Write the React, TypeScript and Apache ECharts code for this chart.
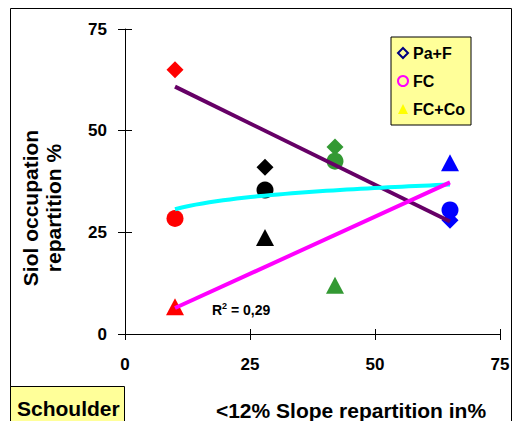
import React, { useEffect, useRef } from "react";
import * as echarts from "echarts";

// ---- data ----
const slopeX = [10, 28, 42, 65];
const paF = [65, 41, 46, 28];
const fc = [28.4, 35.4, 42.5, 30.5];
const fcCo = [6.7, 23.7, 12, 42.1];
const pointColors = ["#ff0000", "#000000", "#339933", "#0000ff"];
const seriesNames = ["Pa+F", "FC", "FC+Co"];
const axisMin = 0;
const axisMax = 75;
const axisStep = 25;
const r2Text = "0,29";
const yTitle = "Siol occupation\nrepartition %";
const xTitle = "<12% Slope repartition in%";
const boxLabel = "Schoulder";

const FONT = "Arial, 'Liberation Sans', Helvetica, sans-serif";

function linFit(xs: number[], ys: number[]) {
  const n = xs.length;
  const mx = xs.reduce((a, b) => a + b, 0) / n;
  const my = ys.reduce((a, b) => a + b, 0) / n;
  let sxx = 0;
  let sxy = 0;
  for (let i = 0; i < n; i++) {
    sxx += (xs[i] - mx) * (xs[i] - mx);
    sxy += (xs[i] - mx) * (ys[i] - my);
  }
  const b = sxy / sxx;
  return { a: my - b * mx, b };
}

function App() {
  const ref = useRef<HTMLDivElement>(null);

  useEffect(() => {
    if (!ref.current) return;
    const chart = echarts.init(ref.current, undefined, { renderer: "svg" });

    const xMin = Math.min(...slopeX);
    const xMax = Math.max(...slopeX);

    // linear trend of Pa+F
    const l1 = linFit(slopeX, paF);
    const trendPaF = [
      [xMin, l1.a + l1.b * xMin],
      [xMax, l1.a + l1.b * xMax],
    ];
    // linear trend of FC+Co
    const l3 = linFit(slopeX, fcCo);
    const trendFcCo = [
      [xMin, l3.a + l3.b * xMin],
      [xMax, l3.a + l3.b * xMax],
    ];
    // logarithmic trend of FC
    const lg = linFit(slopeX.map((v) => Math.log(v)), fc);
    const trendFc: number[][] = [];
    const steps = 40;
    for (let i = 0; i <= steps; i++) {
      const x = xMin + ((xMax - xMin) * i) / steps;
      trendFc.push([x, lg.a + lg.b * Math.log(x)]);
    }

    const mkPoints = (ys: number[]) =>
      ys.map((y, i) => ({ value: [slopeX[i], y], itemStyle: { color: pointColors[i], opacity: 1 } }));

    const axisCommon = {
      type: "value" as const,
      min: axisMin,
      max: axisMax,
      interval: axisStep,
      splitLine: { show: false },
    };

    const labelStyle = {
      color: "#000",
      fontSize: 17,
      fontWeight: "bolder",
      fontFamily: FONT,
    };

    const option: any = {
      animation: false,
      backgroundColor: "#ffffff",
      textStyle: { fontFamily: FONT, fontWeight: "bold", color: "#000" },
      grid: { left: 125, right: 14, top: 29, bottom: 87, containLabel: false },
      xAxis: [
        {
          ...axisCommon,
          position: "bottom",
          axisLine: { show: true, onZero: false, lineStyle: { color: "#000", width: 1 } },
          axisTick: { show: true, inside: false, length: 6, lineStyle: { color: "#000", width: 1 } },
          axisLabel: { ...labelStyle, margin: 22 },
        },
        {
          ...axisCommon,
          position: "bottom",
          axisLine: { show: false, onZero: false },
          axisTick: { show: true, inside: true, length: 5, lineStyle: { color: "#000", width: 1 } },
          axisLabel: { show: false },
        },
      ],
      yAxis: [
        {
          ...axisCommon,
          position: "left",
          axisLine: { show: true, onZero: false, lineStyle: { color: "#000", width: 1 } },
          axisTick: { show: true, inside: false, length: 7, lineStyle: { color: "#000", width: 1 } },
          axisLabel: { ...labelStyle, margin: 18 },
        },
        {
          ...axisCommon,
          position: "left",
          axisLine: { show: false, onZero: false },
          axisTick: { show: true, inside: true, length: 7, lineStyle: { color: "#000", width: 1 } },
          axisLabel: { show: false },
        },
      ],
      legend: {
        orient: "vertical",
        left: 391,
        top: 37,
        selectedMode: false,
        backgroundColor: "#ffff99",
        borderColor: "#000",
        borderWidth: 1,
        borderRadius: 0,
        padding: [8, 6, 8, 6],
        itemGap: 12,
        itemWidth: 10,
        itemHeight: 10,
        textStyle: { fontSize: 16, fontWeight: "bold", color: "#000", fontFamily: FONT, lineHeight: 16 },
        data: [
          {
            name: seriesNames[0],
            icon: "diamond",
            itemStyle: { color: "rgba(0,0,0,0)", borderColor: "#000080", borderWidth: 2, opacity: 1 },
          },
          {
            name: seriesNames[1],
            icon: "circle",
            itemStyle: { color: "rgba(0,0,0,0)", borderColor: "#ff00ff", borderWidth: 2, opacity: 1 },
          },
          {
            name: seriesNames[2],
            icon: "triangle",
            itemStyle: { color: "#ffff00", borderWidth: 0, opacity: 1 },
          },
        ],
      },
      series: [
        {
          name: seriesNames[0],
          type: "scatter",
          symbol: "diamond",
          symbolSize: 17,
          z: 2,
          itemStyle: { opacity: 1 },
          data: mkPoints(paF),
        },
        {
          name: seriesNames[1],
          type: "scatter",
          symbol: "circle",
          symbolSize: 17,
          z: 2,
          itemStyle: { opacity: 1 },
          data: mkPoints(fc),
        },
        {
          name: seriesNames[2],
          type: "scatter",
          symbol: "triangle",
          symbolSize: [18, 17],
          z: 2,
          itemStyle: { opacity: 1 },
          data: mkPoints(fcCo),
        },
        {
          type: "line",
          data: trendPaF,
          showSymbol: false,
          symbol: "none",
          z: 3,
          lineStyle: { color: "#660066", width: 4 },
          silent: true,
        },
        {
          type: "line",
          data: trendFc,
          showSymbol: false,
          symbol: "none",
          z: 3,
          lineStyle: { color: "#00ffff", width: 4 },
          silent: true,
        },
        {
          type: "line",
          data: trendFcCo,
          showSymbol: false,
          symbol: "none",
          z: 3,
          lineStyle: { color: "#ff00ff", width: 4 },
          silent: true,
        },
      ],
      graphic: [
        {
          type: "rect",
          silent: true,
          z: 0,
          shape: { x: 10.5, y: 8.5, width: 501, height: 420 },
          style: { fill: "none", stroke: "#000", lineWidth: 1 },
        },
        {
          type: "rect",
          silent: true,
          z: 1,
          shape: { x: 10.5, y: 386.5, width: 114, height: 40 },
          style: { fill: "#ffff99", stroke: "#000", lineWidth: 1 },
        },
        {
          type: "text",
          silent: true,
          z: 2,
          x: 17,
          y: 408,
          style: {
            text: boxLabel,
            fill: "#000",
            fontSize: 21,
            fontWeight: "bold",
            fontFamily: FONT,
            align: "left",
            verticalAlign: "middle",
          },
        },
        {
          type: "text",
          silent: true,
          z: 2,
          x: 351,
          y: 410,
          style: {
            text: xTitle,
            fill: "#000",
            fontSize: 21,
            fontWeight: "bold",
            fontFamily: FONT,
            align: "center",
            verticalAlign: "middle",
          },
        },
        {
          type: "text",
          silent: true,
          z: 2,
          x: 42,
          y: 208,
          rotation: Math.PI / 2,
          style: {
            text: yTitle,
            fill: "#000",
            fontSize: 21,
            fontWeight: "bold",
            fontFamily: FONT,
            lineHeight: 23,
            align: "center",
            verticalAlign: "middle",
          },
        },
        {
          type: "text",
          silent: true,
          z: 5,
          x: 212,
          y: 309,
          style: {
            text: "{r|R}{s|2}{r| = " + r2Text + "}",
            fill: "#000",
            fontFamily: FONT,
            align: "left",
            verticalAlign: "middle",
            rich: {
              r: { fontSize: 14, fontWeight: "bold", fontFamily: FONT, fill: "#000", lineHeight: 16, verticalAlign: "bottom" },
              s: { fontSize: 9, fontWeight: "bold", fontFamily: FONT, fill: "#000", lineHeight: 16, verticalAlign: "top" },
            },
          },
        },
      ],
    };

    chart.setOption(option);
    return () => {
      chart.dispose();
    };
  }, []);

  return (
    <div
      ref={ref}
      style={{ position: "absolute", left: 0, top: 0, width: 514, height: 421 }}
    />
  );
}

export default App;
